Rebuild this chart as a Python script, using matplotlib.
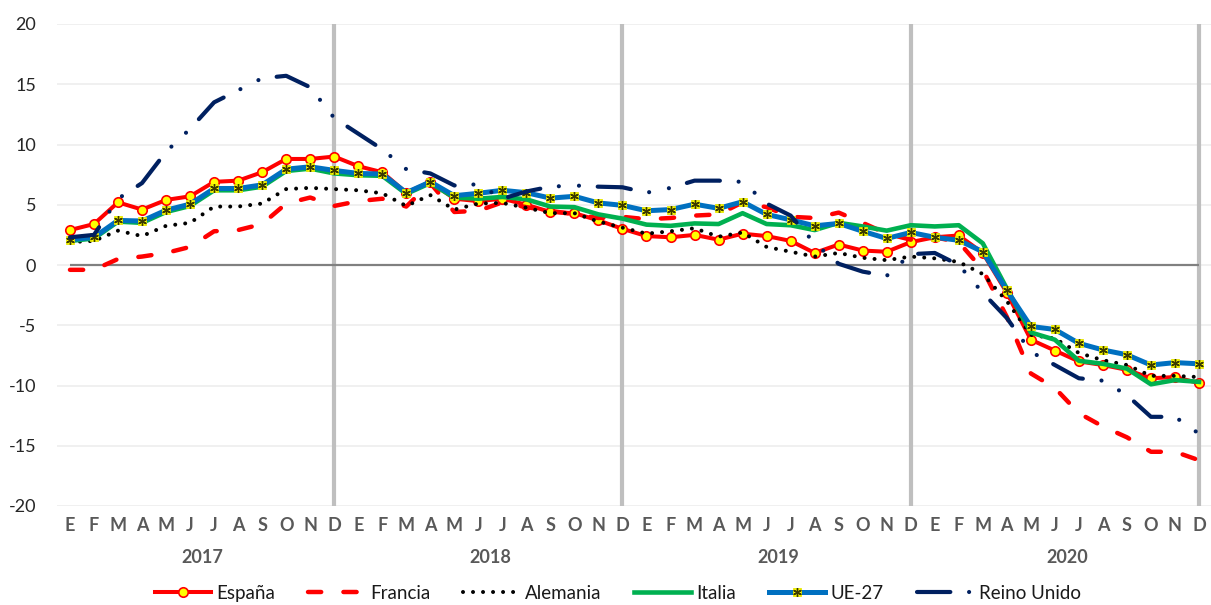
import matplotlib
matplotlib.use("Agg")
import matplotlib.pyplot as plt
from matplotlib.legend_handler import HandlerTuple

plt.rcParams['font.family'] = ['Lato', 'DejaVu Sans']
plt.rcParams['lines.scale_dashes'] = False
plt.rcParams['axes.unicode_minus'] = False

# Monthly series, January 2017 - December 2020
months = ['E', 'F', 'M', 'A', 'M', 'J', 'J', 'A', 'S', 'O', 'N', 'D']
years = ['2017', '2018', '2019', '2020']

espana = [2.9, 3.4, 5.2, 4.6, 5.4, 5.7, 6.9, 7.0, 7.7, 8.8, 8.8, 9.0,
          8.2, 7.7, 6.0, 6.9, 5.5, 5.3, 5.5, 5.0, 4.4, 4.3, 3.7, 3.0,
          2.4, 2.3, 2.5, 2.1, 2.6, 2.4, 2.0, 1.0, 1.7, 1.2, 1.1, 1.9,
          2.3, 2.45, 1.0, -2.3, -6.2, -7.1, -8.0, -8.3, -8.7, -9.4, -9.3, -9.8]

francia = [-0.4, -0.4, 0.5, 0.7, 1.0, 1.5, 2.8, 2.9, 3.4, 5.1, 5.6, 4.9,
           5.3, 5.5, 4.85, 6.8, 4.4, 4.5, 5.2, 4.8, 4.5, 4.2, 3.9, 4.0,
           3.8, 3.9, 4.1, 4.2, 5.2, 4.8, 4.0, 3.9, 4.35, 3.5, 2.6, 2.1,
           2.3, 1.9, -0.4, -4.3, -9.0, -10.2, -12.3, -13.4, -14.3, -15.5, -15.5, -16.2]

alemania = [1.9, 2.0, 2.85, 2.4, 3.25, 3.5, 4.85, 4.85, 5.1, 6.3, 6.4, 6.3,
            6.2, 5.95, 4.9, 5.8, 4.6, 5.1, 5.15, 4.75, 4.3, 4.3, 3.6, 3.1,
            2.6, 2.8, 3.05, 2.35, 2.7, 1.5, 1.1, 0.7, 1.0, 0.6, 0.4, 0.7,
            0.55, 0.25, -0.75, -3.0, -5.8, -6.1, -7.3, -7.9, -8.3, -9.2, -9.2, -9.3]

italia = [2.0, 2.2, 3.6, 3.5, 4.4, 4.9, 6.2, 6.2, 6.5, 7.8, 8.0, 7.6,
          7.45, 7.4, 5.9, 6.8, 5.6, 5.5, 5.65, 5.45, 4.85, 4.8, 4.2, 3.85,
          3.35, 3.25, 3.45, 3.4, 4.3, 3.4, 3.3, 2.9, 3.5, 3.2, 2.85, 3.3,
          3.2, 3.3, 1.8, -1.95, -5.6, -6.2, -7.95, -8.2, -8.6, -9.9, -9.55, -9.7]

ue27 = [2.1, 2.3, 3.7, 3.65, 4.55, 5.05, 6.35, 6.35, 6.65, 7.95, 8.15, 7.85,
        7.6, 7.55, 6.0, 6.9, 5.75, 5.95, 6.2, 6.0, 5.55, 5.7, 5.15, 4.95,
        4.5, 4.6, 5.05, 4.7, 5.25, 4.2, 3.75, 3.25, 3.45, 2.8, 2.2, 2.7,
        2.3, 2.05, 1.1, -2.1, -5.1, -5.35, -6.5, -7.05, -7.45, -8.3, -8.1, -8.2]

reino_unido = [2.3, 2.5, 5.5, 6.8, 9.4, 11.3, 13.5, 14.5, 15.5, 15.7, 14.75, 12.2,
               10.9, 9.6, 7.95, 7.6, 6.6, 6.7, 5.5, 6.1, 6.5, 6.6, 6.5, 6.45,
               6.0, 6.4, 7.0, 7.0, 6.9, 5.1, 4.1, 1.8, 0.1, -0.55, -0.9, 0.9,
               1.0, 0.0, -2.3, -4.4, -7.2, -8.3, -9.4, -9.6, -10.8, -12.6, -12.6, -14.0]

x = list(range(len(espana)))

fig = plt.figure(figsize=(12.11, 6.05), dpi=100)
ax = fig.add_axes([57 / 1211, 1 - 506 / 605, 1 - 57 / 1211, (506 - 24) / 605])

ax.set_xlim(-0.54, 47.5)
ax.set_ylim(-20, 20)
ax.set_yticks(range(-20, 21, 5))
ax.yaxis.grid(True, color='#EDEDED', linewidth=1.2, zorder=0)
ax.set_axisbelow(True)
for s in ax.spines.values():
    s.set_visible(False)

# year separators and zero axis
ax.vlines([11, 23, 35, 47], -20.15, 20, colors='#BFBFBF', linewidth=3.0, zorder=1)
ax.hlines(0, 0, 47, colors='#808080', linewidth=1.6, zorder=1)

# series
ax.plot(x, espana, color='#FF0000', linewidth=2.9, marker='o', markersize=6.8,
        markerfacecolor='#FFFF00', markeredgecolor='#FF0000', markeredgewidth=1.2,
        zorder=3, label='España')
ax.plot(x, francia, color='#FF0000', linewidth=3.2, zorder=4, label='Francia',
        dashes=(9.5, 16), dash_capstyle='round', solid_capstyle='round')
ax.plot(x, alemania, color='#000000', linewidth=2.9, zorder=5, label='Alemania',
        dashes=(0.01, 7.2), dash_capstyle='round')
ax.plot(x, italia, color='#00B050', linewidth=3.3, zorder=6, label='Italia')
l_ue, = ax.plot(x, ue27, color='#0070C0', linewidth=3.6, marker='s', markersize=6.4,
                markerfacecolor='#FFFF00', markeredgecolor='#E6E600', markeredgewidth=0.6,
                zorder=7)
l_ue_star, = ax.plot(x, ue27, linestyle='none', marker=(6, 2, 0), markersize=6.2,
                     markeredgecolor='#3A3A00', markeredgewidth=1.0, zorder=8)
l_uk, = ax.plot(x, reino_unido, color='#002060', linewidth=3.0, zorder=9,
                dashes=(24, 13.5, 0.01, 14.5, 0.01, 13.5), dash_capstyle='round',
                label='Reino Unido')

# axis labels
ax.tick_params(axis='y', length=0, pad=15, labelsize=13, labelcolor='#262626')
ax.set_xticks(x)
ax.set_xticklabels(months * len(years), fontweight='bold')
ax.tick_params(axis='x', length=0, pad=8, labelsize=13, labelcolor='#595959')

for k, yr in enumerate(years):
    ax.text(5.5 + 12 * k, -0.106, yr, transform=ax.get_xaxis_transform(),
            ha='center', va='center', fontsize=13, fontweight='bold', color='#595959')

handles, labels = ax.get_legend_handles_labels()
order = ['España', 'Francia', 'Alemania', 'Italia']
h = [handles[labels.index(n)] for n in order]
h.append((l_ue, l_ue_star))
h.append(l_uk)
lab = order + ['UE-27', 'Reino Unido']
leg = fig.legend(h, lab, loc='center', bbox_to_anchor=(0.51, 0.019), ncol=6,
                 frameon=False, fontsize=13.5, handlelength=3.0, handletextpad=0.3,
                 columnspacing=1.75, numpoints=1,
                 handler_map={tuple: HandlerTuple(ndivide=1)})
for t in leg.get_texts():
    t.set_color('#1A1A1A')

fig.savefig('out.png', dpi=100)
